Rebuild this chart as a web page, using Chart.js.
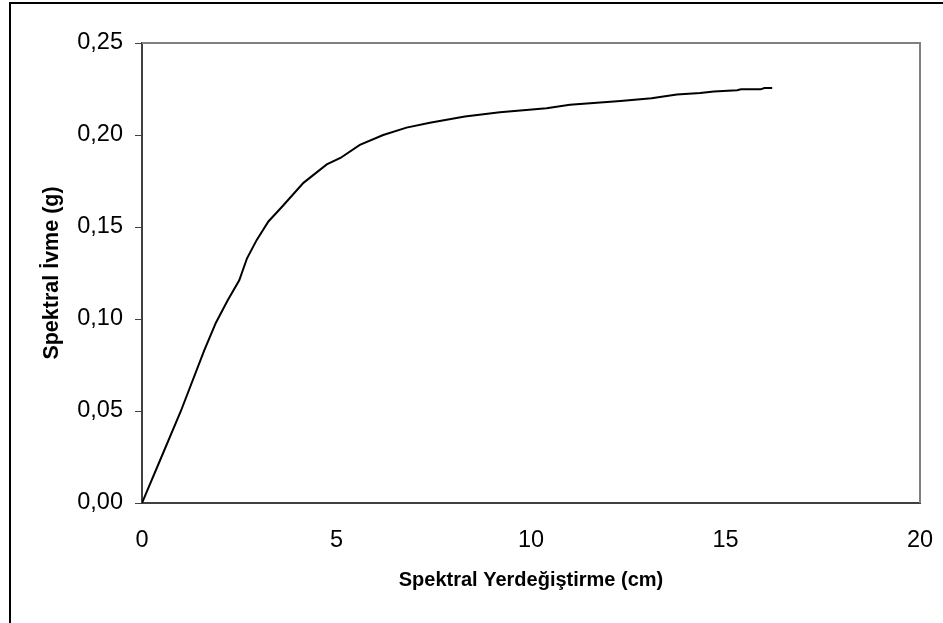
<!DOCTYPE html>
<html>
<head>
<meta charset="utf-8">
<script src="https://cdn.jsdelivr.net/npm/chart.js@4"></script>
<style>
  html, body { margin: 0; padding: 0; background: #fff; }
  #wrap { position: relative; width: 943px; height: 623px; }
</style>
</head>
<body>
<div id="wrap"><canvas id="myChart" width="943" height="623"></canvas></div>
<script>
// --- données ---
const displacement = [0, 0.5, 1.0, 1.6, 1.9, 2.2, 2.5, 2.7, 2.95, 3.25, 3.6, 4.15, 4.75, 5.1, 5.6, 6.2, 6.8, 7.4, 8.3, 9.2, 10.4, 11.0, 12.3, 13.1, 13.75, 14.35, 14.7, 15.3, 15.4, 15.9, 16.0, 16.2];
const acceleration = [0, 0.025, 0.050, 0.083, 0.098, 0.110, 0.121, 0.133, 0.143, 0.153, 0.161, 0.174, 0.184, 0.1875, 0.1946, 0.200, 0.204, 0.2067, 0.210, 0.2123, 0.2145, 0.2165, 0.2185, 0.220, 0.222, 0.2228, 0.2236, 0.2243, 0.2248, 0.2248, 0.2255, 0.2255];
const xTicks = [0, 5, 10, 15, 20];
const yTicks = [0, 0.05, 0.10, 0.15, 0.20, 0.25];
const xTitle = 'Spektral Yerdeğiştirme (cm)';
const yTitle = 'Spektral İvme (g)';

const FONT = "'Liberation Sans', Arial, sans-serif";

// cadre extérieur + bordure grise de la zone de tracé
const framePlugin = {
    id: 'frame',
    beforeDraw(chart) {
        const c = chart.ctx;
        c.save();
        c.strokeStyle = '#000';
        c.lineWidth = 2;
        c.beginPath();
        c.moveTo(10, 623); c.lineTo(10, 3); c.lineTo(943, 3);
        c.stroke();
        c.restore();
    },
    afterDatasetsDraw(chart) {
        const a = chart.chartArea, c = chart.ctx;
        c.save();
        c.strokeStyle = '#808080';
        c.lineWidth = 2;
        c.beginPath();
        c.moveTo(a.left, a.top); c.lineTo(a.right, a.top); c.lineTo(a.right, a.bottom);
        c.stroke();
        c.restore();
    }
};

const ctx = document.getElementById('myChart').getContext('2d');
new Chart(ctx, {
    type: 'scatter',
    data: {
        datasets: [{
            data: displacement.map((x, i) => ({ x: x, y: acceleration[i] })),
            showLine: true,
            borderColor: '#000',
            borderWidth: 2,
            pointRadius: 0,
            tension: 0,
            fill: false
        }]
    },
    options: {
        responsive: false,
        animation: false,
        layout: { padding: { left: 0, right: 23, top: 43, bottom: 0 } },
        plugins: { legend: { display: false }, tooltip: { enabled: false } },
        scales: {
            x: {
                type: 'linear', min: 0, max: 20,
                afterBuildTicks: s => { s.ticks = xTicks.map(v => ({ value: v })); },
                afterFit: s => { s.height = 120; s.paddingLeft = 0; s.paddingRight = 0; },
                grid: { display: false, drawOnChartArea: false, drawTicks: true, tickLength: 7, tickColor: '#404040', tickWidth: 1 },
                border: { display: true, color: '#404040', width: 2 },
                ticks: { color: '#000', font: { family: FONT, size: 23.5 }, padding: 16, maxRotation: 0 },
                title: { display: true, text: xTitle, color: '#000', font: { family: FONT, size: 20, weight: 'bold' }, padding: { bottom: 31 } }
            },
            y: {
                type: 'linear', min: 0, max: 0.25,
                afterBuildTicks: s => { s.ticks = yTicks.map(v => ({ value: v })); },
                afterFit: s => { s.width = 142; s.paddingTop = 0; s.paddingBottom = 0; },
                grid: { display: true, drawOnChartArea: false, drawTicks: true, tickLength: 7, tickColor: '#404040', tickWidth: 1 },
                border: { display: true, color: '#404040', width: 2 },
                ticks: { color: '#000', font: { family: FONT, size: 23.5 }, padding: 12,
                         callback: v => v.toFixed(2).replace('.', ',') },
                title: { display: true, text: yTitle, color: '#000', font: { family: FONT, size: 21.5, weight: 'bold' }, padding: { top: 39 } }
            }
        }
    },
    plugins: [framePlugin]
});
</script>
</body>
</html>
